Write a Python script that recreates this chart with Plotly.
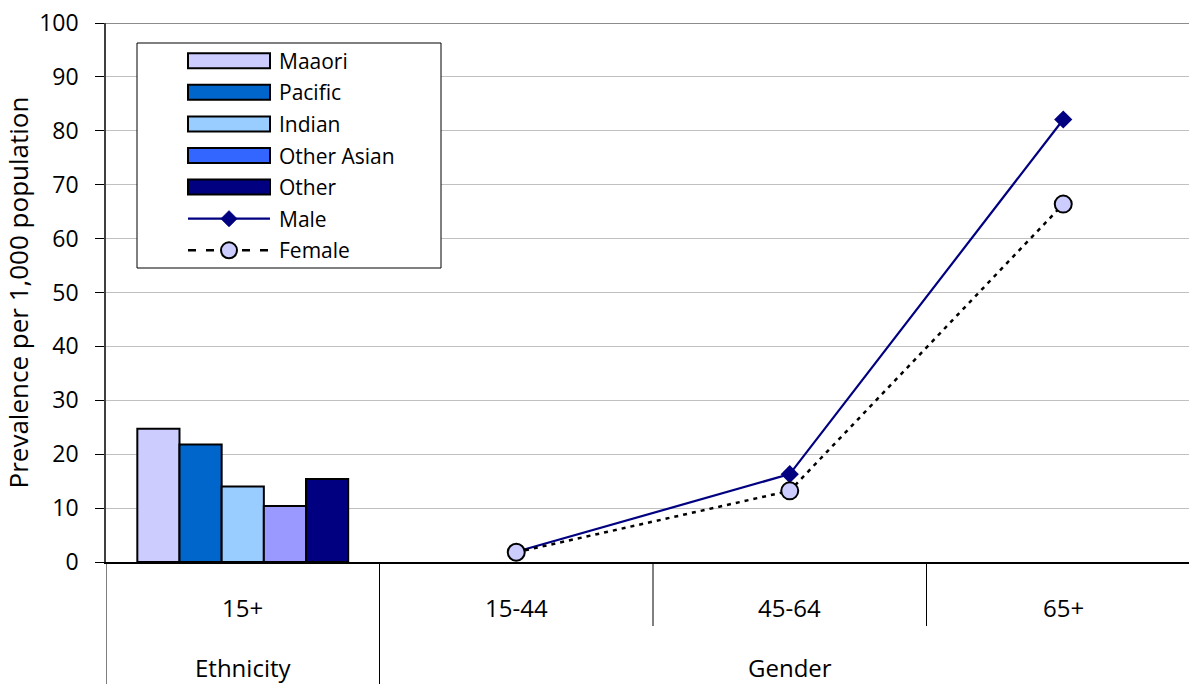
import plotly.graph_objects as go

# Prevalence per 1,000 population
eth_groups = ["Maaori", "Pacific", "Indian", "Other Asian", "Other"]
eth_values = [24.7, 21.8, 14.0, 10.4, 15.4]
eth_colors = ["#CCCCFF", "#0066CC", "#99CCFF", "#9999FF", "#000080"]
eth_key_colors = ["#CCCCFF", "#0066CC", "#99CCFF", "#3366FF", "#000080"]

age_bands = ["15-44", "45-64", "65+"]
male_values = [1.9, 16.3, 82.1]
female_values = [1.8, 13.2, 66.4]

category_labels = ["15+", "15-44", "45-64", "65+"]
group_labels = [("Ethnicity", 0), ("Gender", 2)]

FONT = "Open Sans"
W, H = 1189, 684
L, R, T, B = 106, 0, 23, 122
PW, PH = W - L - R, H - T - B


def px(xp):
    return (xp - L) / PW


def py(yp):
    return (H - B - yp) / PH


fig = go.Figure()

for name, val, col in zip(eth_groups, eth_values, eth_colors):
    fig.add_trace(go.Bar(
        x=[0], y=[val], name=name, marker=dict(color=col, line=dict(color="black", width=2)),
        showlegend=False,
    ))

age_x = [category_labels.index(a) for a in age_bands]
fig.add_trace(go.Scatter(
    x=age_x, y=male_values, mode="lines+markers", name="Male",
    line=dict(color="#000080", width=2.2),
    marker=dict(symbol="diamond", size=14, color="#000080"),
    showlegend=False,
))
fig.add_trace(go.Scatter(
    x=age_x, y=female_values, mode="lines+markers", name="Female",
    line=dict(color="black", width=2.5, dash="4px,5px"),
    marker=dict(symbol="circle", size=17, color="#CCCCFF", line=dict(color="black", width=2)),
    showlegend=False, cliponaxis=False,
))

shapes = []
annotations = []

# top border line at 100
shapes.append(dict(type="line", xref="paper", yref="y", x0=0, x1=1, y0=100, y1=100,
                   line=dict(color="#8C8C8C", width=2)))

# category dividers under the axis
for xv, full in [(-0.5, True), (0.5, True), (1.5, False), (2.5, False)]:
    shapes.append(dict(type="line", xref="x", yref="paper", x0=xv, x1=xv,
                       y0=0, y1=py(684) if full else py(626),
                       line=dict(color="black", width=1)))

for i, lab in enumerate(category_labels):
    annotations.append(dict(x=i, y=py(607), xref="x", yref="paper", text=lab, showarrow=False,
                            xanchor="center", yanchor="middle",
                            font=dict(family=FONT, size=24, color="black")))
for lab, xv in group_labels:
    annotations.append(dict(x=xv, y=py(667), xref="x", yref="paper", text=lab, showarrow=False,
                            xanchor="center", yanchor="middle",
                            font=dict(family=FONT, size=24, color="black")))

# key box
shapes.append(dict(type="rect", xref="paper", yref="paper", x0=px(137), x1=px(441),
                   y0=py(268), y1=py(43), fillcolor="white", line=dict(color="black", width=1),
                   layer="above"))
row0, step = 60.7, 31.6
sw0, sw1, txt_x = 188, 270, 277
for i, (name, col) in enumerate(zip(eth_groups, eth_key_colors)):
    yc = row0 + i * step
    shapes.append(dict(type="rect", xref="paper", yref="paper", x0=px(sw0), x1=px(sw1),
                       y0=py(yc + 7.5), y1=py(yc - 7.5), fillcolor=col,
                       line=dict(color="black", width=2), layer="above"))
    annotations.append(dict(x=px(txt_x), y=py(yc), xref="paper", yref="paper", text=name,
                            showarrow=False, xanchor="left", yanchor="middle",
                            font=dict(family=FONT, size=21, color="black")))

# Male key
yc = row0 + 5 * step
mid = (sw0 + sw1) / 2
shapes.append(dict(type="line", xref="paper", yref="paper", x0=px(sw0), x1=px(sw1),
                   y0=py(yc), y1=py(yc), line=dict(color="#000080", width=2.2), layer="above"))
d = 8
shapes.append(dict(type="path", xref="paper", yref="paper",
                   path=f"M {px(mid - d)} {py(yc)} L {px(mid)} {py(yc - d)} L {px(mid + d)} {py(yc)} L {px(mid)} {py(yc + d)} Z",
                   fillcolor="#000080", line=dict(color="#000080", width=1), layer="above"))
annotations.append(dict(x=px(txt_x), y=py(yc), xref="paper", yref="paper", text="Male",
                        showarrow=False, xanchor="left", yanchor="middle",
                        font=dict(family=FONT, size=21, color="black")))

# Female key
yc = row0 + 6 * step
shapes.append(dict(type="line", xref="paper", yref="paper", x0=px(sw0), x1=px(sw1),
                   y0=py(yc), y1=py(yc), line=dict(color="black", width=2.5, dash="8px,10px"),
                   layer="above"))
r = 8
shapes.append(dict(type="circle", xref="paper", yref="paper", x0=px(mid - r), x1=px(mid + r),
                   y0=py(yc + r), y1=py(yc - r), fillcolor="#CCCCFF",
                   line=dict(color="black", width=2), layer="above"))
annotations.append(dict(x=px(txt_x), y=py(yc), xref="paper", yref="paper", text="Female",
                        showarrow=False, xanchor="left", yanchor="middle",
                        font=dict(family=FONT, size=21, color="black")))

fig.update_layout(
    width=W, height=H,
    margin=dict(l=L, r=R, t=T, b=B, pad=0),
    paper_bgcolor="white", plot_bgcolor="white",
    barmode="group", bargap=0.229, bargroupgap=0,
    font=dict(family=FONT, size=21, color="black"),
    shapes=shapes, annotations=annotations,
    showlegend=False,
)
fig.update_xaxes(
    range=[-0.5, -0.5 + PW / 273.5], showgrid=False, zeroline=False,
    showline=True, linecolor="black", linewidth=2,
    showticklabels=False, ticks="",
)
fig.update_yaxes(
    range=[0, 100], dtick=10, showgrid=True, gridcolor="#C0C0C0", gridwidth=1,
    zeroline=False, showline=True, linecolor="#404040", linewidth=1.5,
    ticks="outside", ticklen=9, tickcolor="black", tickwidth=1,
    ticklabelstandoff=12,
    tickfont=dict(family=FONT, size=23, color="black"),
    title=dict(text="Prevalence per 1,000 population", standoff=6,
               font=dict(family=FONT, size=26, color="black")),
)

fig.write_html("out.html")
